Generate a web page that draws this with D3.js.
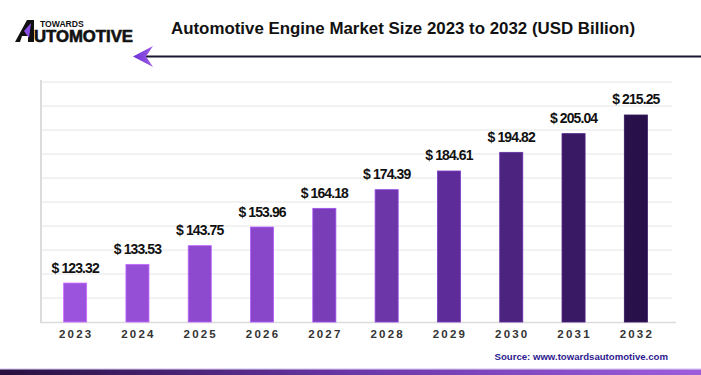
<!DOCTYPE html>
<meta charset="utf-8">
<style>
body { margin: 0; background: #fff; }
svg { display: block; font-family: "Liberation Sans", Arial, sans-serif; }
.grid line { stroke: #e6e6e6; stroke-width: 1.2; }
.year { font-size: 11.5px; font-weight: bold; fill: #333; letter-spacing: 2.2px; }
.val { font-size: 14px; font-weight: bold; fill: #111; letter-spacing: -0.9px; }
</style>
<svg width="701" height="375"></svg>
<script src="https://cdn.jsdelivr.net/npm/d3@7"></script>
<script>

var years = ["2023", "2024", "2025", "2026", "2027", "2028", "2029", "2030", "2031", "2032"];
var values = [123.32, 133.53, 143.75, 153.96, 164.18, 174.39, 184.61, 194.82, 205.04, 215.25];

var svg = d3.select("svg"),
    width = +svg.attr("width"),
    height = +svg.attr("height");

var defs = svg.append("defs");

var band = defs.append("linearGradient").attr("id", "band");
band.append("stop").attr("offset", "0%").attr("stop-color", "#26103f");
band.append("stop").attr("offset", "50%").attr("stop-color", "#6a36a8");
band.append("stop").attr("offset", "100%").attr("stop-color", "#9d5ddb");

var head = defs.append("linearGradient").attr("id", "head");
head.append("stop").attr("offset", "0%").attr("stop-color", "#6a2fd6");
head.append("stop").attr("offset", "100%").attr("stop-color", "#a05ee6");

// scales
var x = d3.scaleBand()
    .domain(years)
    .range([44, 667])
    .paddingInner(0.63)
    .paddingOuter(0.315);

var y = d3.scaleLinear()
    .domain([102, 233.3])
    .range([322, 82]);

var color = d3.scaleLinear()
    .domain([0, 3, 6, 9])
    .range(["#9b53de", "#8846c8", "#5e2c98", "#28104a"]);

// logo
var logo = svg.append("g");
logo.append("path")
    .attr("d", "M15,42 L27,20 L34,20 L34,42 L28,42 L28,36 L22,36 L20,42 Z")
    .attr("fill", "#111");
logo.append("path")
    .attr("d", "M24,31 L31,23 L29,38 Z")
    .attr("fill", "#8b4ee6");
logo.append("text")
    .attr("x", 40).attr("y", 27)
    .attr("font-size", "8.6px").attr("font-weight", "900")
    .attr("fill", "#111")
    .text("TOWARDS");
logo.append("text")
    .attr("x", 34).attr("y", 42)
    .attr("font-size", "16px").attr("font-weight", "900")
    .attr("fill", "#111").attr("stroke", "#111").attr("stroke-width", 0.6)
    .attr("textLength", 99).attr("lengthAdjust", "spacingAndGlyphs")
    .text("UTOMOTIVE");

// title
svg.append("text")
    .attr("x", 403).attr("y", 34)
    .attr("text-anchor", "middle")
    .attr("font-size", "17px").attr("font-weight", "bold")
    .attr("fill", "#111")
    .attr("textLength", 464).attr("lengthAdjust", "spacingAndGlyphs")
    .text("Automotive Engine Market Size 2023 to 2032 (USD Billion)");

// arrow
svg.append("line")
    .attr("x1", 145).attr("x2", width)
    .attr("y1", 56.5).attr("y2", 56.5)
    .attr("stroke", "#1c1630").attr("stroke-width", 2);
svg.append("path")
    .attr("d", "M133,56.5 L153,46 L146,56.5 L153,67 Z")
    .attr("fill", "url(#head)");

// grid
var grid = svg.append("g").attr("class", "grid");
grid.selectAll("line")
    .data(d3.range(0, 10))
    .enter().append("line")
    .attr("x1", 41).attr("x2", 672)
    .attr("y1", function(d) { return 82 + d * 24; })
    .attr("y2", function(d) { return 82 + d * 24; });

// axes lines
svg.append("line")
    .attr("x1", 41).attr("x2", 41)
    .attr("y1", 80).attr("y2", 323)
    .attr("stroke", "#dcdcdc").attr("stroke-width", 2);
svg.append("line")
    .attr("x1", 40).attr("x2", 676)
    .attr("y1", 322.5).attr("y2", 322.5)
    .attr("stroke", "#dcdcdc").attr("stroke-width", 1.5);

// bars
svg.append("g").selectAll("rect")
    .data(values)
    .enter().append("rect")
    .attr("x", function(d, i) { return x(years[i]); })
    .attr("y", function(d) { return y(d); })
    .attr("width", x.bandwidth())
    .attr("height", function(d) { return y.range()[0] - y(d); })
    .attr("fill", function(d, i) { return color(i); })
    .attr("stroke", function(d, i) { return d3.color(color(i)).brighter(0.8); })
    .attr("stroke-width", 0.8);

// value labels
svg.append("g").selectAll("text")
    .data(values)
    .enter().append("text")
    .attr("class", "val")
    .attr("x", function(d, i) { return x(years[i]) + x.bandwidth() / 2; })
    .attr("y", function(d) { return y(d) - 10.5; })
    .attr("text-anchor", "middle")
    .text(function(d) { return "$ " + d.toFixed(2); });

// x labels
var xAxis = d3.axisBottom(x).tickSize(0).tickPadding(0);
var gx = svg.append("g")
    .attr("transform", "translate(1,330)")
    .call(xAxis);
gx.select(".domain").remove();
gx.selectAll("text")
    .attr("class", "year")
    .attr("font-family", null).attr("font-size", null).attr("fill", null)
    .attr("dy", "0.71em");

// source
svg.append("text")
    .attr("x", 668).attr("y", 360)
    .attr("text-anchor", "end")
    .attr("font-size", "9.6px").attr("font-weight", "bold")
    .attr("fill", "#2e1a8e")
    .text("Source: www.towardsautomotive.com");

// bottom band
svg.append("rect")
    .attr("x", 0).attr("y", 368.5)
    .attr("width", width).attr("height", 1)
    .attr("fill", "#d4bdf0");
svg.append("rect")
    .attr("x", 0).attr("y", 369.5)
    .attr("width", width).attr("height", height - 369.5)
    .attr("fill", "url(#band)");

</script>
